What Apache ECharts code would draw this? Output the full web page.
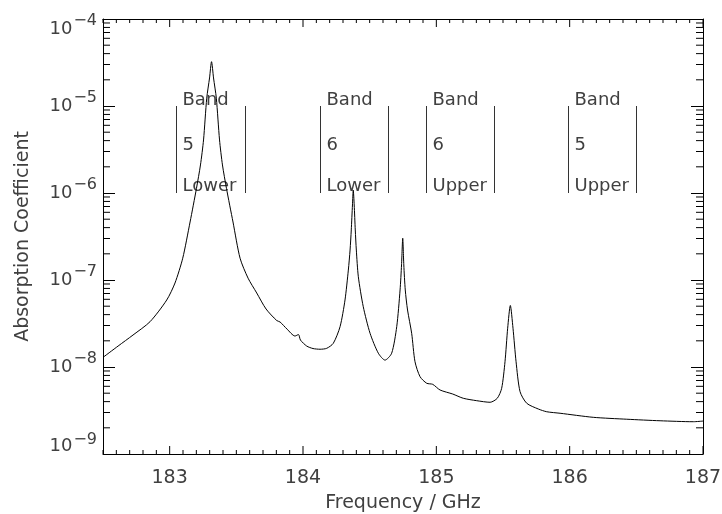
<!DOCTYPE html>
<html>
<head>
<meta charset="utf-8">
<title>Absorption Coefficient</title>
<script src="https://cdn.jsdelivr.net/npm/echarts@6/dist/echarts.min.js"></script>
<style>
  html, body { margin: 0; padding: 0; background: #fff; }
  #chart { width: 722px; height: 514px; }
</style>
</head>
<body>
<div id="chart"></div>
<script>
// spectrum
var freqGHz = [
  182.500, 182.613, 182.725, 182.853, 182.978, 183.040, 183.098, 183.153, 183.201, 183.231,
  183.254, 183.278, 183.299, 183.314, 183.329, 183.350, 183.374, 183.396, 183.426, 183.475,
  183.528, 183.588, 183.653, 183.723, 183.803, 183.828, 183.880, 183.940, 183.966, 183.981,
  184.028, 184.075, 184.128, 184.178, 184.227, 184.278, 184.315, 184.340, 184.353, 184.362,
  184.371, 184.377, 184.384, 184.392, 184.400, 184.415, 184.452, 184.503, 184.565, 184.615,
  184.665, 184.703, 184.728, 184.739, 184.748, 184.756, 184.767, 184.784, 184.815, 184.840,
  184.878, 184.928, 184.973, 185.028, 185.123, 185.202, 185.303, 185.403, 185.457, 185.490,
  185.515, 185.535, 185.555, 185.575, 185.598, 185.628, 185.678, 185.765, 185.828, 185.928,
  186.177, 186.428, 186.678, 186.927, 187.000
];
var absorption = [
  1.29e-8, 1.74e-8, 2.33e-8, 3.32e-8, 5.89e-8, 9.24e-8, 1.78e-7, 4.64e-7, 1.13e-6, 2.10e-6,
  4.07e-6, 1.23e-5, 2.10e-5, 3.23e-5, 2.10e-5, 1.23e-5, 4.07e-6, 2.10e-6, 1.13e-6, 4.64e-7,
  1.78e-7, 1.05e-7, 7.09e-8, 4.64e-8, 3.42e-8, 3.29e-8, 2.73e-8, 2.27e-8, 2.36e-8, 2.04e-8,
  1.74e-8, 1.63e-8, 1.60e-8, 1.64e-8, 1.87e-8, 2.91e-8, 5.89e-8, 1.30e-7, 2.21e-7, 3.76e-7,
  7.28e-7, 1.08e-6, 7.28e-7, 3.76e-7, 2.21e-7, 1.09e-7, 4.93e-8, 2.44e-8, 1.44e-8, 1.20e-8,
  1.44e-8, 2.91e-8, 7.68e-8, 1.49e-7, 3.02e-7, 1.49e-7, 7.68e-8, 4.52e-8, 2.44e-8, 1.15e-8,
  7.73e-9, 6.50e-9, 6.32e-9, 5.44e-9, 4.89e-9, 4.37e-9, 4.10e-9, 3.93e-9, 4.37e-9, 5.69e-9,
  1.15e-8, 2.79e-8, 5.09e-8, 2.79e-8, 1.15e-8, 5.20e-9, 3.83e-9, 3.29e-9, 3.06e-9, 2.94e-9,
  2.64e-9, 2.51e-9, 2.41e-9, 2.35e-9, 2.39e-9
];

// band markers
var bandNumbers = ['5', '6', '6', '5'];
var bandSides = ['Lower', 'Lower', 'Upper', 'Upper'];
var bandStart = [183.05, 184.13, 184.925, 185.99];
var bandEnd = [183.565, 184.635, 185.435, 186.50];
var bandTop = 1e-5;
var bandBottom = 1e-6;

// axes
var xMin = 182.5, xMax = 187;
var yMin = 1e-9, yMax = 1e-4;
var xTickLabels = [183, 184, 185, 186, 187];
var yExponents = ['−9', '−8', '−7', '−6', '−5', '−4'];

var FONT = 'DejaVu Sans';
var TXT = '#404040';

var curve = freqGHz.map(function (f, i) { return [f, absorption[i]]; });

// tick positions for the box frame
var xMinorTicks = [];
for (var k = 0; k <= 45; k++) {
  var xv = Math.round((xMin + k * 0.1) * 10) / 10;
  if (xTickLabels.indexOf(xv) < 0) xMinorTicks.push(xv);
}
var yMinorTicks = [];
for (var ex = -9; ex < -4; ex++) {
  for (var m = 2; m <= 9; m++) yMinorTicks.push(m * Math.pow(10, ex));
}

var bandData = bandStart.map(function (s, i) { return [s, bandEnd[i], i]; });

function crisp(x) { return Math.round(x) + 0.5; }

function renderBand(params, api) {
  var i = api.value(2);
  var tl = api.coord([api.value(0), bandTop]);
  var bl = api.coord([api.value(0), bandBottom]);
  var tr = api.coord([api.value(1), bandTop]);
  var xl = crisp(tl[0]), xr = crisp(tr[0]);
  var label = function (txt, y) {
    return {
      type: 'text',
      style: {
        text: txt, x: xl + 6, y: y,
        fill: TXT, font: '18px "' + FONT + '"',
        align: 'left', verticalAlign: 'middle'
      }
    };
  };
  return {
    type: 'group',
    children: [
      { type: 'line', shape: { x1: xl, y1: tl[1], x2: xl, y2: bl[1] }, style: { stroke: '#333', lineWidth: 1 } },
      { type: 'line', shape: { x1: xr, y1: tr[1], x2: xr, y2: bl[1] }, style: { stroke: '#333', lineWidth: 1 } },
      label('Band', tl[1] - 6),
      label(bandNumbers[i], tl[1] + (bl[1] - tl[1]) * 0.45),
      label(bandSides[i], bl[1] - 7)
    ]
  };
}

// a tick mark is a thin rect symbol pushed inside the frame
function tickSeries(points, size, offset) {
  return {
    type: 'scatter',
    xAxisIndex: 0,
    yAxisIndex: 0,
    data: points,
    symbol: 'rect',
    symbolSize: size,
    symbolOffset: offset,
    itemStyle: { color: '#000', opacity: 1 },
    clip: false,
    silent: true,
    z: 4
  };
}

var chart = echarts.init(document.getElementById('chart'), null, { renderer: 'canvas' });

var xCommon = {
  type: 'value',
  min: xMin,
  max: xMax,
  interval: 0.5,
  splitLine: { show: false },
  axisLine: { show: true, onZero: false, lineStyle: { color: '#000', width: 1 } },
  axisTick: { show: false }
};
var yCommon = {
  type: 'log',
  logBase: 10,
  min: yMin,
  max: yMax,
  splitNumber: 5,
  splitLine: { show: false },
  axisLine: { show: true, onZero: false, lineStyle: { color: '#000', width: 1 } },
  axisTick: { show: true, inside: true, length: 12, lineStyle: { color: '#000' } }
};

var richBase = { fontFamily: FONT, fontSize: 18, color: TXT, verticalAlign: 'bottom' };
var richSup = { fontFamily: FONT, fontSize: 16, color: TXT, verticalAlign: 'top' };

chart.setOption({
  animation: false,
  backgroundColor: '#fff',
  grid: { left: 103, right: 19, top: 19, bottom: 60, containLabel: false, outerBoundsMode: 'none' },
  xAxis: [
    Object.assign({}, xCommon, {
      position: 'bottom',
      name: 'Frequency / GHz',
      nameLocation: 'middle',
      nameGap: 40,
      nameTextStyle: { fontFamily: FONT, fontSize: 19, color: TXT },
      axisLabel: {
        margin: 15,
        fontFamily: FONT,
        fontSize: 19,
        color: TXT,
        formatter: function (v) {
          var r = Math.round(v);
          return (Math.abs(v - r) < 1e-6 && xTickLabels.indexOf(r) >= 0) ? String(r) : '';
        }
      }
    }),
    Object.assign({}, xCommon, { position: 'top', axisLabel: { show: false } })
  ],
  yAxis: [
    Object.assign({}, yCommon, {
      position: 'left',
      name: 'Absorption Coefficient',
      nameLocation: 'middle',
      nameGap: 70,
      nameTextStyle: { fontFamily: FONT, fontSize: 19, color: TXT },
      axisLabel: {
        margin: 6,
        formatter: function (v) {
          var k = Math.round(Math.log10(v)) + 9;
          var tag = k === 0 ? 'lo' : (k === 5 ? 'hi' : 'md');
          return '{b' + tag + '|10}{s' + tag + '|' + yExponents[k] + '}';
        },
        rich: {
          bmd: Object.assign({ padding: [0, 0, 7, 0] }, richBase),
          smd: Object.assign({ padding: [0, 0, 16, 1] }, richSup),
          blo: Object.assign({ padding: [0, 0, 21, 0] }, richBase),
          slo: Object.assign({ padding: [0, 0, 28, 1] }, richSup),
          bhi: Object.assign({ padding: [0, 0, 0, 0] }, richBase),
          shi: Object.assign({ padding: [13, 0, 9, 1] }, richSup)
        }
      }
    }),
    Object.assign({}, yCommon, { position: 'right', axisLabel: { show: false } })
  ],
  series: [
    {
      type: 'line',
      data: curve,
      xAxisIndex: 0,
      yAxisIndex: 0,
      showSymbol: false,
      symbol: 'none',
      smooth: 0.25,
      lineStyle: { color: '#000', width: 1 },
      z: 3
    },
    {
      type: 'custom',
      xAxisIndex: 0,
      yAxisIndex: 0,
      data: bandData,
      renderItem: renderBand,
      clip: false,
      silent: true,
      z: 2
    },
    tickSeries(xMinorTicks.map(function (v) { return [v, yMin]; }), [1, 4], [0, -2]),
    tickSeries(xMinorTicks.map(function (v) { return [v, yMax]; }), [1, 4], [0, 2]),
    tickSeries(xTickLabels.map(function (v) { return [v, yMin]; }), [1, 8], [0, -4]),
    tickSeries(xTickLabels.map(function (v) { return [v, yMax]; }), [1, 8], [0, 4]),
    tickSeries(yMinorTicks.map(function (v) { return [xMin, v]; }), [7, 1], [3.5, 0]),
    tickSeries(yMinorTicks.map(function (v) { return [xMax, v]; }), [7, 1], [-3.5, 0])
  ]
});
</script>
</body>
</html>
